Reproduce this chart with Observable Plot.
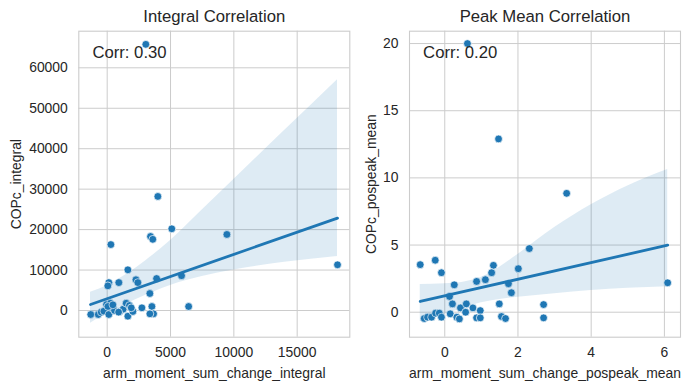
<!DOCTYPE html>
<html>
<head>
<meta charset="utf-8">
<script src="https://cdn.jsdelivr.net/npm/d3@7"></script>
<script src="https://cdn.jsdelivr.net/npm/@observablehq/plot@0.6"></script>
<style>
  html, body { margin: 0; padding: 0; background: #fff; }
  #wrap { position: relative; width: 690px; height: 390px; overflow: hidden; }
  #wrap > div { position: absolute; top: 0; }
  svg { overflow: visible; background: transparent; }
</style>
</head>
<body>
<div id="wrap"><div id="left" style="left:0"></div><div id="right" style="left:340px"></div></div>
<script>
// ---- Left panel: Integral Correlation ----
const integralX = [3050, 4000, 5100, 9450, 3420, 3600, 290, 18184, 1630, 5870, 3900, 2270, 2420, 130, 50, 920, 3370, 6430, 3530, 2740, 3660, 3370, -1300, -700, -470, -260, 130, -50, 260, 400, 580, 1000, 1260, 1500, 1760, 1630, 2030, 1900, 60, 900, 450];
const integralY = [65800, 28200, 20200, 18800, 18300, 17600, 16300, 11300, 10060, 8600, 7900, 7600, 6900, 6900, 6100, 6900, 4200, 990, 990, 660, -820, -820, -990, -990, -410, -160, -990, 1480, 1800, 660, 0, -250, 330, 1800, 1240, -1400, -250, 660, 1000, -400, 1400];
// fitted regression line (end values)
const integralFitX = [-1316, 18184];
const integralFitY = [1480, 22840];
// confidence band
const integralBandX  = [-1316, 0, 1500, 3000, 5000, 7500, 10000, 14000, 18184];
const integralBandLo = [-3130, -700, 1600, 3700, 6200, 8400, 10000, 11900, 13360];
const integralBandHi = [4530, 6200, 8900, 12200, 17300, 24850, 32400, 44480, 57050];
const integralXTicks = [0, 5000, 10000, 15000];
const integralYTicks = [0, 10000, 20000, 30000, 40000, 50000, 60000];

// ---- Right panel: Peak Mean Correlation ----
const peakX = [0.62, 1.47, 3.33, 2.31, 6.09, -0.67, -0.26, -0.09, 1.33, 1.28, 2.01, 1.11, 0.87, 0.26, 1.74, 1.82, 0.13, 0.21, 1.49, 2.70, 2.70, 0.43, 0.59, 0.77, 0.97, 0.57, 0.15, 0.33, 0.40, 0.87, 0.97, 1.55, 1.66, -0.56, -0.47, -0.36, -0.25, -0.15, -0.09];
const peakY = [20.0, 12.9, 8.85, 4.74, 2.19, 3.54, 3.87, 2.94, 3.49, 2.94, 3.24, 2.42, 2.29, 2.04, 2.12, 1.45, 1.17, 0.62, 0.62, 0.57, -0.42, 0.32, 0.62, 0.32, 0.12, 0.0, -0.12, -0.37, -0.5, -0.42, -0.42, -0.32, -0.47, -0.47, -0.37, -0.37, -0.07, -0.07, -0.37];
const peakFitX = [-0.67, 6.09];
const peakFitY = [0.80, 4.99];
const peakBandX  = [-0.67, 0, 0.5, 1, 1.5, 2, 3, 4, 5, 6.09];
const peakBandLo = [-0.7, -0.15, 0.3, 0.7, 0.95, 1.12, 1.38, 1.62, 1.78, 1.9];
const peakBandHi = [2.07, 2.12, 2.24, 2.6, 3.35, 4.3, 6.3, 8.0, 9.4, 10.62];
const peakXTicks = [0, 2, 4, 6];
const peakYTicks = [0, 5, 10, 15, 20];

const titles = ["Integral Correlation", "Peak Mean Correlation"];
const xLabels = ["arm_moment_sum_change_integral", "arm_moment_sum_change_pospeak_mean"];
const yLabels = ["COPc_integral", "COPc_pospeak_mean"];
const corrLabels = ["Corr: 0.30", "Corr: 0.20"];

const BLUE = "#1f77b4", GRID = "#cccccc", INK = "#262626";
const FONT = "'Liberation Sans', Arial, sans-serif";

function panel({xs, ys, fx, fy, bx, blo, bhi, xDomain, yDomain, xTicks, yTicks, title, xLabel, yLabel, corr, width, marginLeft, yLabelDx}) {
  const pts = xs.map((x, i) => ({x, y: ys[i]}));
  const fit = fx.map((x, i) => ({x, y: fy[i]}));
  const band = bx.map((x, i) => ({x, lo: blo[i], hi: bhi[i]}));
  return Plot.plot({
    width, height: 390,
    marginLeft, marginRight: width - marginLeft - 271, marginTop: 30.7, marginBottom: 53.3,
    style: {fontFamily: FONT, fontSize: "13.9px", color: INK, background: "transparent", overflow: "visible"},
    x: {domain: xDomain, ticks: xTicks, tickFormat: d3.format("d"), label: null, tickSize: 0, tickPadding: 10},
    y: {domain: yDomain, ticks: yTicks, tickFormat: d3.format("d"), label: null, tickSize: 0, tickPadding: 11},
    marks: [
      Plot.gridX(xTicks, {stroke: GRID, strokeOpacity: 1, strokeWidth: 1}),
      Plot.gridY(yTicks, {stroke: GRID, strokeOpacity: 1, strokeWidth: 1}),
      Plot.frame({stroke: GRID, strokeWidth: 1.1}),
      Plot.dot(pts, {x: "x", y: "y", r: 3.9, fill: BLUE, stroke: "white", strokeWidth: 0.7}),
      Plot.areaY(band, {x: "x", y1: "lo", y2: "hi", fill: BLUE, fillOpacity: 0.15, curve: "monotone-x"}),
      Plot.line(fit, {x: "x", y: "y", stroke: BLUE, strokeWidth: 2.8}),
      Plot.text([corr], {frameAnchor: "top-left", dx: 13.6, dy: 15.3, textAnchor: "start", lineAnchor: "top", fontSize: 16.7, fill: INK}),
      Plot.text([title], {frameAnchor: "top", dy: -14.7, lineAnchor: "middle", fontSize: 16.7, fill: INK}),
      Plot.text([xLabel], {frameAnchor: "bottom", dy: 36, lineAnchor: "middle", fontSize: 13.9, fill: INK}),
      Plot.text([yLabel], {frameAnchor: "left", dx: yLabelDx, rotate: -90, textAnchor: "middle", lineAnchor: "middle", fontSize: 13.9, fill: INK})
    ]
  });
}

document.getElementById("left").appendChild(panel({
  xs: integralX, ys: integralY, fx: integralFitX, fy: integralFitY, bx: integralBandX, blo: integralBandLo, bhi: integralBandHi,
  xDomain: [-2242, 19154], yDomain: [-6600, 69050], xTicks: integralXTicks, yTicks: integralYTicks,
  title: titles[0], xLabel: xLabels[0], yLabel: yLabels[0], corr: corrLabels[0],
  width: 350, marginLeft: 78.3, yLabelDx: -62
}));
document.getElementById("right").appendChild(panel({
  xs: peakX, ys: peakY, fx: peakFitX, fy: peakFitY, bx: peakBandX, blo: peakBandLo, bhi: peakBandHi,
  xDomain: [-0.963, 6.44], yDomain: [-1.86, 20.92], xTicks: peakXTicks, yTicks: peakYTicks,
  title: titles[1], xLabel: xLabels[1], yLabel: yLabels[1], corr: corrLabels[1],
  width: 350, marginLeft: 69, yLabelDx: -38
}));
</script>
</body>
</html>
